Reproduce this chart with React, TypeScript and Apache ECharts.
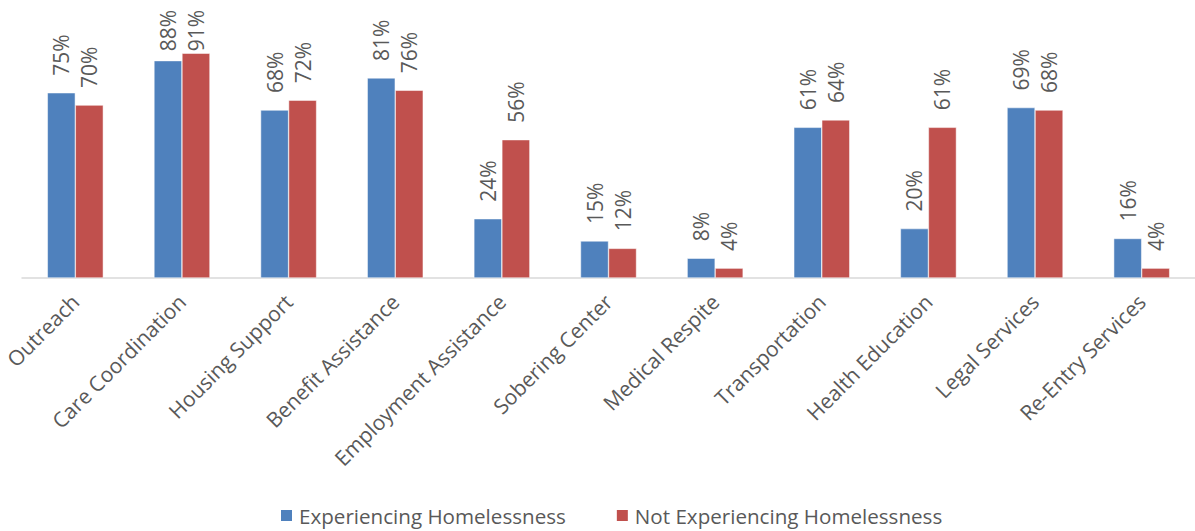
import React, { useEffect, useRef } from "react";
import * as echarts from "echarts";

const categories = [
  "Outreach",
  "Care Coordination",
  "Housing Support",
  "Benefit Assistance",
  "Employment Assistance",
  "Sobering Center",
  "Medical Respite",
  "Transportation",
  "Health Education",
  "Legal Services",
  "Re-Entry Services",
];
const experiencing = [75, 88, 68, 81, 24, 15, 8, 61, 20, 69, 16];
const notExperiencing = [70, 91, 72, 76, 56, 12, 4, 64, 61, 68, 4];
const seriesNames = ["Experiencing Homelessness", "Not Experiencing Homelessness"];

const FONT = "Open Sans";
const TEXT = "#595959";
const LABEL_TOP_LIMIT = 10;

export default function App() {
  const ref = useRef<HTMLDivElement>(null);
  useEffect(() => {
    if (!ref.current) return;
    const chart = echarts.init(ref.current, undefined, { renderer: "svg" });
    const label = {
      show: true,
      position: "top",
      rotate: 90,
      align: "left",
      verticalAlign: "middle",
      distance: 17,
      formatter: (p: any) => p.value + "%",
      fontFamily: FONT,
      fontSize: 21,
      color: TEXT,
    };
    chart.setOption({
      animation: false,
      backgroundColor: "#ffffff",
      textStyle: { fontFamily: FONT },
      grid: { left: 22, right: -7, top: 31, height: 247, containLabel: false },
      legend: {
        bottom: 0,
        left: 274,
        itemWidth: 13,
        itemHeight: 13,
        itemGap: 49,
        icon: "rect",
        textStyle: { fontFamily: FONT, fontSize: 20.6, color: TEXT, padding: [0, 0, 0, 1] },
        data: seriesNames,
      },
      labelLayout: (p: any) => {
        const r = p.labelRect;
        if (r && r.y < LABEL_TOP_LIMIT) {
          return { y: LABEL_TOP_LIMIT + r.height };
        }
        return {};
      },
      xAxis: {
        type: "category",
        data: categories,
        axisLine: { lineStyle: { color: "#D9D9D9", width: 1.5 } },
        axisTick: { show: false },
        axisLabel: {
          rotate: 45,
          interval: 0,
          margin: 20,
          fontFamily: FONT,
          fontSize: 21,
          color: TEXT,
        },
      },
      yAxis: {
        type: "value",
        min: 0,
        max: 100,
        show: false,
        splitLine: { show: false },
      },
      series: [
        {
          name: seriesNames[0],
          type: "bar",
          data: experiencing,
          barWidth: 28,
          barGap: "0%",
          itemStyle: { color: "#4F81BD", borderColor: "#ffffff", borderWidth: 0.5 },
          label,
        },
        {
          name: seriesNames[1],
          type: "bar",
          data: notExperiencing,
          barWidth: 28,
          barGap: "0%",
          itemStyle: { color: "#C0504D", borderColor: "#ffffff", borderWidth: 0.5 },
          label,
        },
      ],
    });
    return () => chart.dispose();
  }, []);
  return (
    <div
      ref={ref}
      style={{ position: "fixed", left: 0, top: 0, width: 1195, height: 531 }}
    />
  );
}
